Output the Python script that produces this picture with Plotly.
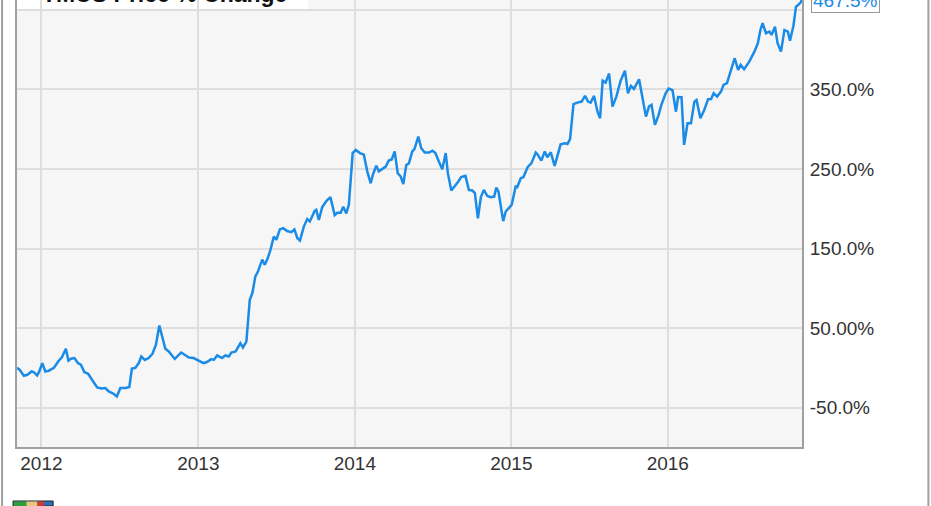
import plotly.graph_objects as go

series_name = "TMUS Price % Change"
end_label = "467.5%"

dates = [
    "2011-11-05", "2011-11-11", "2011-11-21", "2011-11-29", "2011-12-09", "2011-12-14", "2011-12-22", "2011-12-27",
    "2012-01-03", "2012-01-10", "2012-01-18", "2012-01-30", "2012-02-09", "2012-02-18", "2012-02-27", "2012-03-04",
    "2012-03-10", "2012-03-18", "2012-03-26", "2012-04-02", "2012-04-10", "2012-04-19", "2012-04-28", "2012-05-10",
    "2012-05-20", "2012-05-29", "2012-06-06", "2012-06-17", "2012-06-25", "2012-07-03", "2012-07-15", "2012-07-24",
    "2012-07-30", "2012-08-07", "2012-08-15", "2012-08-21", "2012-08-29", "2012-09-07", "2012-09-16", "2012-09-24",
    "2012-10-02", "2012-10-10", "2012-10-16", "2012-10-24", "2012-11-07", "2012-11-22", "2012-12-02", "2012-12-10",
    "2012-12-21",
    "2013-01-02", "2013-01-13", "2013-01-21", "2013-01-31", "2013-02-06", "2013-02-14", "2013-02-25", "2013-03-05",
    "2013-03-13", "2013-03-19", "2013-03-29", "2013-04-09", "2013-04-15", "2013-04-23", "2013-05-01", "2013-05-07",
    "2013-05-14", "2013-05-20", "2013-05-30", "2013-06-05", "2013-06-12", "2013-06-18", "2013-06-26", "2013-07-02",
    "2013-07-10", "2013-07-18", "2013-07-27", "2013-08-06", "2013-08-13", "2013-08-20", "2013-08-26", "2013-09-04",
    "2013-09-12", "2013-09-18", "2013-09-29", "2013-10-03", "2013-10-09", "2013-10-17", "2013-10-27", "2013-11-05",
    "2013-11-15", "2013-11-21", "2013-11-29", "2013-12-05", "2013-12-12", "2013-12-18", "2013-12-27",
    "2014-01-03", "2014-01-13", "2014-01-22", "2014-01-30", "2014-02-07", "2014-02-12", "2014-02-20", "2014-02-26",
    "2014-03-06", "2014-03-14", "2014-03-21", "2014-03-28", "2014-04-04", "2014-04-11", "2014-04-18", "2014-04-24",
    "2014-05-01", "2014-05-07", "2014-05-15", "2014-05-20", "2014-05-29", "2014-06-05", "2014-06-13", "2014-06-23",
    "2014-07-01", "2014-07-08", "2014-07-16", "2014-07-24", "2014-08-01", "2014-08-06", "2014-08-14", "2014-08-22",
    "2014-08-30", "2014-09-06", "2014-09-16", "2014-09-24", "2014-10-02", "2014-10-08", "2014-10-15", "2014-10-22",
    "2014-10-29", "2014-11-06", "2014-11-14", "2014-11-22", "2014-11-27", "2014-12-02", "2014-12-13", "2014-12-19",
    "2014-12-27",
    "2015-01-02", "2015-01-11", "2015-01-15", "2015-01-23", "2015-01-29", "2015-02-08", "2015-02-17", "2015-02-27",
    "2015-03-04", "2015-03-12", "2015-03-20", "2015-03-26", "2015-04-03", "2015-04-12", "2015-04-20", "2015-04-26",
    "2015-05-06", "2015-05-12", "2015-05-18", "2015-05-26", "2015-06-04", "2015-06-14", "2015-06-22", "2015-06-29",
    "2015-07-05", "2015-07-13", "2015-07-21", "2015-07-27", "2015-08-02", "2015-08-09", "2015-08-17", "2015-08-25",
    "2015-09-03", "2015-09-13", "2015-09-23", "2015-09-30", "2015-10-07", "2015-10-14", "2015-10-26", "2015-11-03",
    "2015-11-11", "2015-11-18", "2015-11-24", "2015-12-02", "2015-12-10", "2015-12-17", "2015-12-23", "2015-12-27",
    "2016-01-03", "2016-01-12", "2016-01-20", "2016-01-25", "2016-02-02", "2016-02-08", "2016-02-16", "2016-02-24",
    "2016-03-03", "2016-03-08", "2016-03-17", "2016-03-26", "2016-04-04", "2016-04-11", "2016-04-17", "2016-04-25",
    "2016-05-04", "2016-05-10", "2016-05-18", "2016-05-27", "2016-06-05", "2016-06-13", "2016-06-19", "2016-06-27",
    "2016-07-09", "2016-07-21", "2016-07-29", "2016-08-04", "2016-08-09", "2016-08-17", "2016-08-25", "2016-08-30",
    "2016-09-07", "2016-09-13", "2016-09-21", "2016-09-29", "2016-10-07", "2016-10-12", "2016-10-20", "2016-10-26",
    "2016-10-31", "2016-11-07", "2016-11-09",
]

pct_change = [
    0, -2.4, -10, -8.7, -4.5, -5.3, -9.5, -4.5,
    6, -4.5, -3.6, 0, 8, 13.5, 24, 9,
    11.4, 12.3, 6, 4, -5.3, -7.4, -15, -24.6,
    -26, -25.4, -29.6, -32.5, -36, -25.4, -25.4, -24,
    -1, 0, 6, 14.3, 10, 12.3, 17.7, 29,
    53.3, 35.3, 24, 20.6, 11.2, 19.3, 16, 13,
    12.3,
    9.3, 6, 7.3, 11, 10, 15.6, 12.3, 15.6,
    14.3, 19.3, 20.6, 31, 25.6, 33, 85.6, 94,
    115, 121, 136, 129.5, 138, 148, 165, 161,
    174, 175.6, 172, 170.6, 174, 163, 160, 177.6,
    187, 184, 197, 198.6, 186, 202, 210, 214.6,
    192, 195, 195, 202.5, 194, 205, 270,
    274, 270, 268, 247, 232, 242.6, 254, 247,
    250, 253, 260.5, 262, 272, 244.7, 240.5, 231,
    255, 257, 272, 275, 290.7, 276, 270.6, 270.6,
    273, 270, 259.3, 249.7, 270, 244.7, 222.9, 227.9,
    234, 239.7, 241.3, 223.7, 222.9, 219.6, 188, 214.6,
    223.7, 216, 214.6, 215.3, 226.6, 221.6, 184.5, 196.5,
    202,
    205, 228, 227.4, 238.4, 239.7, 252.3, 257.3, 270.6,
    267.7, 260.5, 272, 264.8, 271, 254, 269, 281,
    282.4, 281.5, 287.4, 331.4, 333.4, 334.7, 341.8, 334.7,
    333.4, 341.8, 322, 313.8, 361, 358.5, 370, 328.4,
    341, 361, 373.6, 345.2, 354.4, 350.6, 362.8, 339,
    315.8, 328.4, 330.5, 305.4, 317, 330.5, 341, 345.2,
    351, 349, 322, 340.5, 340.2, 280.3, 307.5, 307.5,
    334.7, 336.8, 313.8, 324.2, 337.7, 338, 345.2, 341,
    347.2, 355.7, 357.8, 372.4, 389.2, 374.5, 380.8, 375.4,
    384.9, 397.5, 408, 424.7, 433.2, 420.6, 422.6, 418.5,
    428.9, 408, 397.5, 424.7, 422.6, 411.3, 430, 454,
    456, 460, 467.5,
]

x_tick_vals = ["2012-01-01", "2013-01-01", "2014-01-01", "2015-01-01", "2016-01-01"]
x_tick_text = ["2012", "2013", "2014", "2015", "2016"]
y_tick_vals = [-50, 50, 150, 250, 350, 450]
y_tick_text = ["-50.0%", "50.00%", "150.0%", "250.0%", "350.0%", "450.0%"]

LINE = "#1a8be6"
GRID = "#dedede"
BORDER = "#a0a0a0"
FONT = "Liberation Sans, Arial, sans-serif"

fig = go.Figure()
fig.add_trace(go.Scatter(
    x=dates, y=pct_change, mode="lines", name=series_name,
    line=dict(color=LINE, width=2.5), hoverinfo="skip",
))

plot_h = 506 - 59
fig.update_layout(
    width=931, height=506,
    margin=dict(l=17, r=129, t=0, b=59, autoexpand=False),
    paper_bgcolor="white", plot_bgcolor="#f6f6f6",
    showlegend=False,
    font=dict(family=FONT, size=19, color="#333333"),
    xaxis=dict(
        type="date", range=[dates[0], dates[-1]], automargin=False,
        tickvals=x_tick_vals, ticktext=x_tick_text,
        showgrid=True, gridcolor=GRID, gridwidth=2,
        showline=True, linecolor=BORDER, linewidth=2,
        ticks="", zeroline=False, ticklabelstandoff=-2,
    ),
    yaxis=dict(
        side="right", range=[-99.5, 462.4], automargin=False,
        tickvals=y_tick_vals, ticktext=y_tick_text,
        showgrid=True, gridcolor=GRID, gridwidth=2,
        showline=True, linecolor=BORDER, linewidth=2, mirror=True,
        ticks="", zeroline=False, ticklabelstandoff=2,
    ),
    shapes=[
        # cut-off legend box at top left (under the grid)
        dict(type="rect", xref="paper", yref="paper", x0=0, x1=0.371,
             y0=1 - 10 / plot_h, y1=1.02, fillcolor="white", line=dict(width=0), layer="below"),
        # outer frame lines
        dict(type="line", xref="paper", yref="paper", x0=-0.019, x1=-0.019,
             y0=-59 / plot_h, y1=1, line=dict(color=BORDER, width=2)),
        dict(type="line", xref="paper", yref="paper", x0=1.161, x1=1.161,
             y0=-59 / plot_h, y1=1, line=dict(color=BORDER, width=2)),
        # small logo at bottom left
        dict(type="rect", xref="paper", yref="paper", x0=-0.005, x1=0.046,
             y0=-59 / plot_h, y1=-54 / plot_h, fillcolor="#2c6fb8",
             line=dict(color="#222222", width=1)),
        dict(type="rect", xref="paper", yref="paper", x0=-0.004, x1=0.012,
             y0=-59 / plot_h, y1=-54.5 / plot_h, fillcolor="#2e9e3a", line=dict(width=0)),
        dict(type="rect", xref="paper", yref="paper", x0=0.012, x1=0.026,
             y0=-59 / plot_h, y1=-54.5 / plot_h, fillcolor="#e8c77a", line=dict(width=0)),
        dict(type="rect", xref="paper", yref="paper", x0=0.026, x1=0.034,
             y0=-59 / plot_h, y1=-54.5 / plot_h, fillcolor="#d23a2a", line=dict(width=0)),
    ],
    annotations=[
        dict(text="<b>" + series_name + "</b>", xref="paper", yref="paper",
             x=(40 - 17) / 785, y=1, xanchor="left", yanchor="middle", yshift=6,
             showarrow=False, font=dict(family=FONT, size=23, color="#111111")),
        dict(text=end_label, xref="paper", yref="paper", x=1, y=1,
             xanchor="left", yanchor="middle", xshift=9, yshift=0,
             showarrow=False, bgcolor="white", bordercolor="#999999", borderwidth=1,
             borderpad=1, font=dict(family=FONT, size=19, color=LINE)),
    ],
)

fig.write_html(
    "out.html",
    config={"displayModeBar": False},
    post_script="document.body.style.margin='0';document.body.style.overflow='hidden';",
)
